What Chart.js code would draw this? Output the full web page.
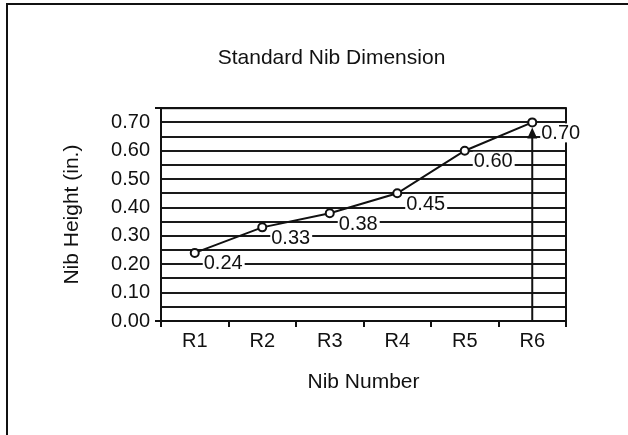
<!DOCTYPE html>
<html>
<head>
<meta charset="utf-8">
<script src="https://cdn.jsdelivr.net/npm/chart.js@4/dist/chart.umd.min.js"></script>
<style>
  html, body { margin: 0; padding: 0; background: #fff; }
</style>
</head>
<body>
<canvas id="grafico-nib" width="628" height="435"></canvas>
<script>
const categorias = ['R1', 'R2', 'R3', 'R4', 'R5', 'R6']
const alturas = [0.24, 0.33, 0.38, 0.45, 0.6, 0.7]
const rotulosY = ['0.00', '0.10', '0.20', '0.30', '0.40', '0.50', '0.60', '0.70']
const tituloGrafico = 'Standard Nib Dimension'
const tituloX = 'Nib Number'
const tituloY = 'Nib Height (in.)'

const fonte = 'Arial, "Liberation Sans", sans-serif'
const tinta = '#111'

// moldura da página: no scan só aparecem o topo e a esquerda
const moldura = {
  id: 'moldura',
  beforeDraw(chart) {
    const ctx = chart.ctx
    ctx.save()
    ctx.fillStyle = '#fff'
    ctx.fillRect(0, 0, chart.width, chart.height)
    ctx.strokeStyle = tinta
    ctx.lineWidth = 2
    ctx.beginPath()
    ctx.moveTo(7, chart.height)
    ctx.lineTo(7, 4)
    ctx.lineTo(chart.width, 4)
    ctx.stroke()
    ctx.restore()
  }
}

// caixa da área do gráfico + rótulos com fundo branco
const rotulosDados = {
  id: 'rotulosDados',
  beforeDatasetsDraw(chart) {
    const { ctx, chartArea: a } = chart
    ctx.save()
    ctx.strokeStyle = tinta
    ctx.lineWidth = 2
    ctx.strokeRect(a.left, a.top, a.right - a.left, a.bottom - a.top)

    ctx.font = `20px ${fonte}`
    ctx.textBaseline = 'middle'
    chart.getDatasetMeta(0).data.forEach((p, i) => {
      const texto = alturas[i].toFixed(2)
      const w = ctx.measureText(texto).width
      const x = p.x + 9
      const y = p.y + 10
      ctx.fillStyle = '#fff'
      ctx.fillRect(x - 1, y - 9, w + 3, 19)
      ctx.fillStyle = tinta
      ctx.fillText(texto, x, y + 1)
    })
    ctx.restore()
  }
}

// seta vertical no último ponto
const seta = {
  id: 'seta',
  afterDatasetsDraw(chart) {
    const ctx = chart.ctx
    const pontos = chart.getDatasetMeta(0).data
    const ultimo = pontos[pontos.length - 1]
    const base = chart.scales.y.getPixelForValue(0)
    const ponta = ultimo.y + 5
    ctx.save()
    ctx.strokeStyle = tinta
    ctx.fillStyle = tinta
    ctx.lineWidth = 2
    ctx.beginPath()
    ctx.moveTo(ultimo.x, base)
    ctx.lineTo(ultimo.x, ponta + 8)
    ctx.stroke()
    ctx.beginPath()
    ctx.moveTo(ultimo.x, ponta)
    ctx.lineTo(ultimo.x - 5, ponta + 11)
    ctx.lineTo(ultimo.x + 5, ponta + 11)
    ctx.closePath()
    ctx.fill()
    ctx.restore()
  }
}

const fonteEixo = { family: fonte, size: 20, weight: 'normal' }
const fonteTitulo = { family: fonte, size: 21, weight: 'normal' }

new Chart(document.getElementById('grafico-nib'), {
  type: 'line',
  data: {
    labels: categorias,
    datasets: [
      {
        data: alturas,
        yAxisID: 'y',
        borderColor: tinta,
        borderWidth: 2,
        tension: 0,
        pointRadius: 4,
        pointBackgroundColor: '#fff',
        pointBorderColor: tinta,
        pointBorderWidth: 2
      }
    ]
  },
  options: {
    responsive: false,
    animation: false,
    layout: { padding: { left: 60, right: 25, top: 0, bottom: 0 } },
    plugins: {
      legend: { display: false },
      tooltip: { enabled: false },
      title: {
        display: true,
        text: tituloGrafico,
        color: tinta,
        font: fonteTitulo,
        padding: { top: 46, bottom: 37 }
      }
    },
    scales: {
      x: {
        offset: true,
        grid: {
          offset: true,
          drawOnChartArea: false,
          drawTicks: true,
          tickLength: 6,
          color: tinta,
          lineWidth: 2
        },
        border: { color: tinta, width: 2 },
        ticks: { color: tinta, font: fonteEixo, padding: 2 },
        title: {
          display: true,
          text: tituloX,
          color: tinta,
          font: fonteTitulo,
          padding: { top: 0, bottom: 40 }
        },
        afterFit(s) { s.height = 114 }
      },
      y: {
        min: 0,
        max: 0.75,
        ticks: {
          stepSize: 0.05,
          autoSkip: false,
          color: tinta,
          font: fonteEixo,
          padding: 5,
          callback: v => {
            const t = Number(v).toFixed(2)
            return rotulosY.includes(t) ? t : ''
          }
        },
        grid: {
          color: '#1a1a1a',
          lineWidth: 2,
          drawTicks: true,
          tickLength: 6,
          tickColor: c => {
            const v = c.tick ? c.tick.value : -1
            return (Math.abs(v) < 1e-6 || Math.abs(v - 0.75) < 1e-6) ? tinta : 'rgba(0,0,0,0)'
          }
        },
        border: { color: tinta, width: 2 },
        title: {
          display: true,
          text: tituloY,
          color: tinta,
          font: fonteTitulo,
          padding: { top: 0, bottom: 0 }
        },
        afterFit(s) { s.width = 101 }
      },
      y2: {
        position: 'right',
        display: true,
        grid: { display: false },
        ticks: { display: false },
        border: { display: false },
        afterFit(s) { s.width = 37 }
      }
    }
  },
  plugins: [moldura, rotulosDados, seta]
})
</script>
</body>
</html>
